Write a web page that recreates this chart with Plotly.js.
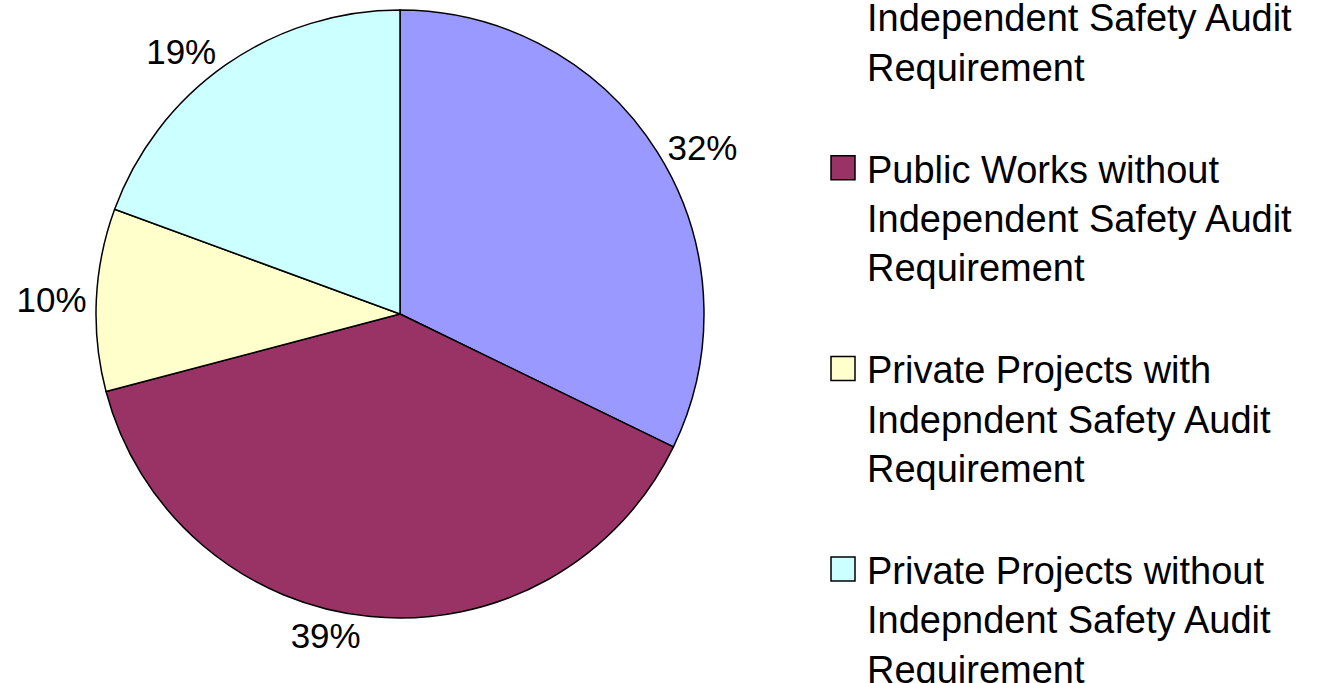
<!DOCTYPE html>
<html>
<head>
<meta charset="utf-8">
<script src="https://cdn.plot.ly/plotly-3.0.1.min.js"></script>
<style>
  html, body { margin: 0; padding: 0; overflow: hidden; width: 1344px; height: 683px; background: #fff; }
  #chart { position: absolute; left: 0; top: -300px; width: 1344px; height: 1300px; }
</style>
</head>
<body>
<div id="chart"></div>
<script>
const categories = [
  "Public Works with<br>Independent Safety Audit<br>Requirement",
  "Public Works without<br>Independent Safety Audit<br>Requirement",
  "Private Projects with<br>Indepndent Safety Audit<br>Requirement",
  "Private Projects without<br>Indepndent Safety Audit<br>Requirement"
];
const shares = [32.2, 38.7, 9.7, 19.4];
const sliceColors = ["#9999FF", "#993366", "#FFFFCC", "#CCFFFF"];

const H = 1300;
const trace = {
  type: "pie",
  labels: categories.map(c => c + "<br> "),
  values: shares,
  sort: false,
  direction: "clockwise",
  rotation: 0,
  marker: { colors: sliceColors, line: { color: "#000000", width: 1.5 } },
  texttemplate: "%{percent:.0%}",
  textposition: "outside",
  outsidetextfont: { family: "Liberation Sans, Arial, sans-serif", size: 35, color: "#000000" },
  domain: { x: [96 / 1344, 704 / 1344], y: [382 / H, 990 / H] },
  hoverinfo: "label+percent"
};

const layout = {
  width: 1344,
  height: H,
  margin: { l: 0, r: 0, t: 0, b: 0 },
  paper_bgcolor: "#ffffff",
  showlegend: true,
  legend: {
    x: 827 / 1344,
    xanchor: "left",
    y: 1 - 236 / H,
    yanchor: "top",
    valign: "top",
    font: { family: "Liberation Sans, Arial, sans-serif", size: 38, color: "#000000" },
    bgcolor: "rgba(0,0,0,0)"
  }
};

Plotly.newPlot("chart", [trace], layout, { staticPlot: true }).then(() => {
  document.querySelectorAll(".legend path.legendpie").forEach(p => {
    p.setAttribute("d", "M8,12H-16V-12H8Z");
  });
});
</script>
</body>
</html>
